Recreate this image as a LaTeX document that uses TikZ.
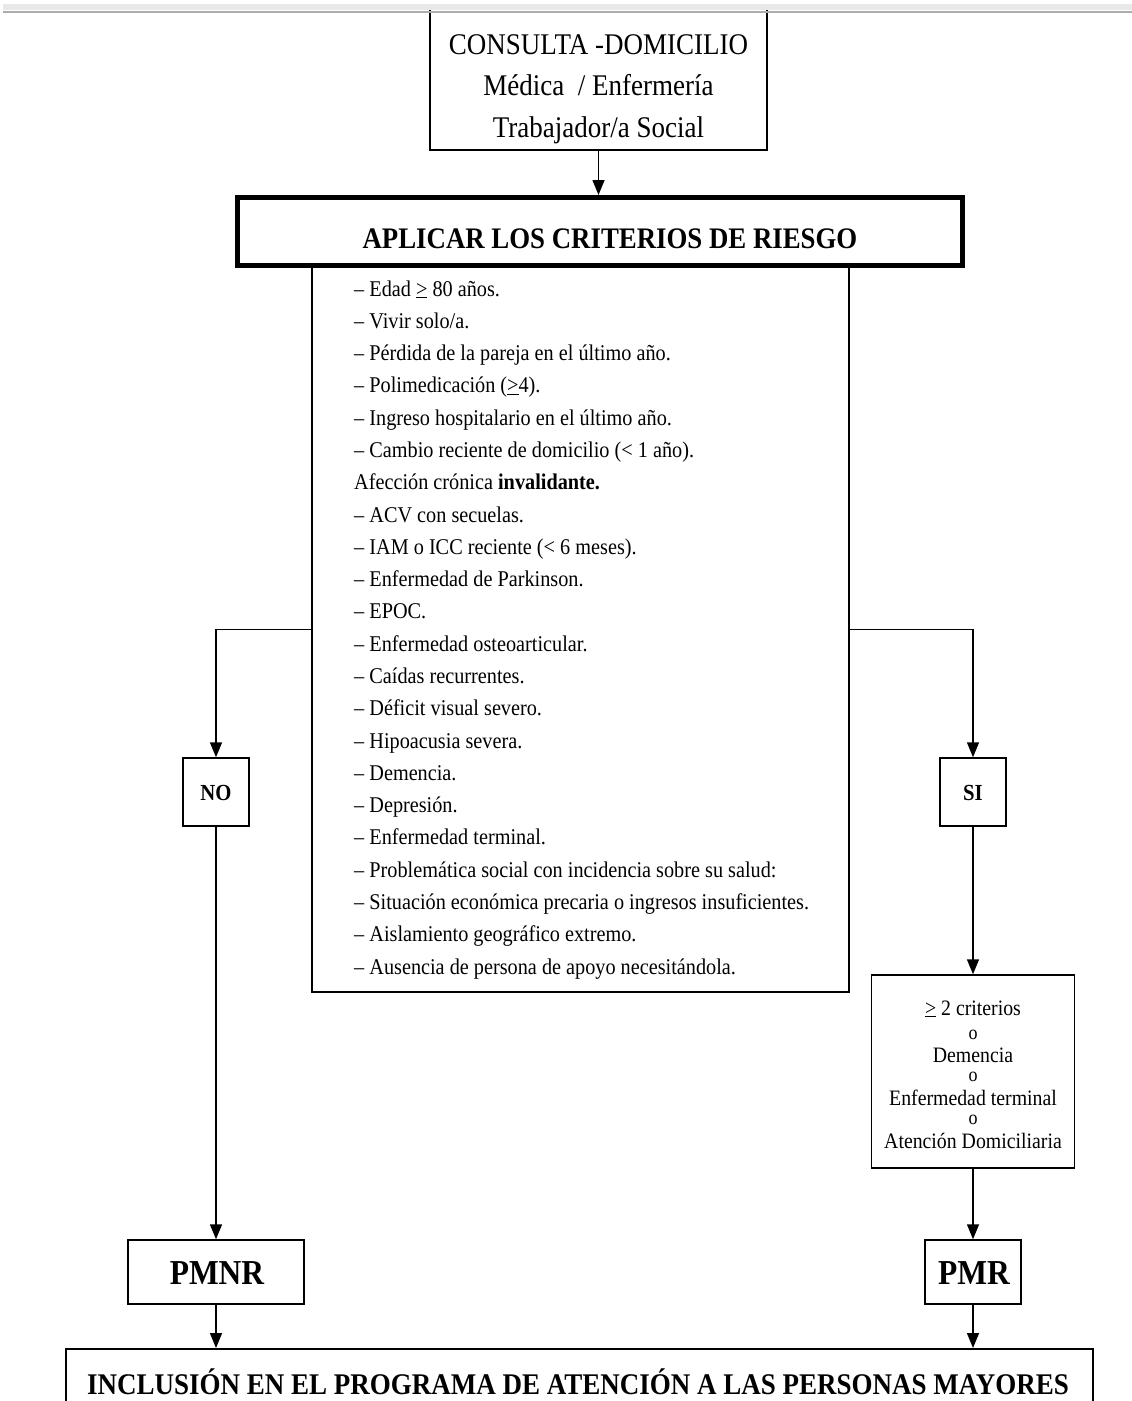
\documentclass[tikz,border=0pt]{standalone}
\usepackage{fontspec}
\setmainfont{Liberation Serif}[FakeStretch=0.9]
\usetikzlibrary{arrows.meta}
\tikzset{
  box/.style={draw, line width=1.5pt, inner sep=0pt, fill=white},
  thickbox/.style={draw, line width=5pt, inner sep=0pt, fill=white},
  arr/.style={draw, line width=1.5pt, -{Triangle[width=12pt,length=15pt]}},
  lbl/.style={inner sep=0pt, anchor=base},
  crittext/.style={inner sep=0pt, anchor=base west, font=\fontsize{22.5}{24}\selectfont},
  toptext/.style={lbl, font=\fontsize{30}{36}\selectfont},
  smalltext/.style={lbl, font=\fontsize{22}{24}\selectfont},
  otext/.style={lbl, font=\fontsize{20}{22}\selectfont},
}
\begin{document}
\begin{tikzpicture}[x=1pt,y=-1pt]
\useasboundingbox (0,0) rectangle (1132,1401);
\clip (0,0) rectangle (1132,1401);
\fill[white] (0,0) rectangle (1132,1401);

% top box
\node[box, minimum width=337pt, minimum height=142pt] (top) at (598.5,79) {};
\node[toptext] (t1) at (598.5,54) {CONSULTA -DOMICILIO};
\node[toptext] (t2) at (598.5,95) {Médica\ \ / Enfermería};
\node[toptext] (t3) at (598.5,137) {Trabajador/a Social};

% page edge line
\fill[gray!18] (3,4) rectangle (1132,10);
\draw[gray!65, line width=2pt] (3,11.5) -- (1132,11.5);

% criteria box
\node[box, anchor=north west, minimum width=537pt, minimum height=725pt] (crit) at (311,266) {};
\foreach \t [count=\i] in {
  {– Edad \underline{>} 80 años.},
  {– Vivir solo/a.},
  {– Pérdida de la pareja en el último año.},
  {– Polimedicación (\underline{>}4).},
  {– Ingreso hospitalario en el último año.},
  {– Cambio reciente de domicilio (< 1 año).},
  {Afección crónica \textbf{invalidante.}},
  {– ACV con secuelas.},
  {– IAM o ICC reciente (< 6 meses).},
  {– Enfermedad de Parkinson.},
  {– EPOC.},
  {– Enfermedad osteoarticular.},
  {– Caídas recurrentes.},
  {– Déficit visual severo.},
  {– Hipoacusia severa.},
  {– Demencia.},
  {– Depresión.},
  {– Enfermedad terminal.},
  {– Problemática social con incidencia sobre su salud:},
  {– Situación económica precaria o ingresos insuficientes.},
  {– Aislamiento geográfico extremo.},
  {– Ausencia de persona de apoyo necesitándola.}}
  \node[crittext] (c\i) at (354,{296+32.29*(\i-1)}) {\t};

% aplicar box
\node[thickbox, minimum width=725pt, minimum height=68pt] (apl) at (600,231.5) {};
\node[lbl, font=\bfseries\fontsize{29.8}{34}\selectfont] (apltxt) at (610,248) {APLICAR LOS CRITERIOS DE RIESGO};
\draw[arr] (top.south) -- (top.south |- apl.north);

% NO / SI
\node[box, minimum width=66pt, minimum height=68pt] (no) at (216,792) {};
\node[lbl, font=\bfseries\fontsize{23}{26}\selectfont] (notxt) at (216,800) {NO};
\node[box, minimum width=66pt, minimum height=68pt] (si) at (973,792) {};
\node[lbl, font=\bfseries\fontsize{23}{26}\selectfont] (sitxt) at (973,800) {SI};
\draw[arr] (crit.west) -| (no.north);
\draw[arr] (crit.east) -| (si.north);

% second criteria box
\node[box, minimum width=203pt, minimum height=193pt] (crit2) at (973,1071.5) {};
\node[smalltext] (d1) at (973,1015) {\underline{>} 2 criterios};
\node[otext] (o1) at (973,1039) {o};
\node[smalltext] (d2) at (973,1062) {Demencia};
\node[otext] (o2) at (973,1081) {o};
\node[smalltext] (d3) at (973,1105) {Enfermedad terminal};
\node[otext] (o3) at (973,1124) {o};
\node[smalltext] (d4) at (973,1148) {Atención Domiciliaria};
\draw[arr] (si.south) -- (si.south |- crit2.north);

% PMNR / PMR
\node[box, minimum width=176pt, minimum height=64pt] (pmnr) at (216,1272) {};
\node[lbl, font=\bfseries\fontsize{35}{40}\selectfont] (pmnrtxt) at (217,1284) {PMNR};
\node[box, minimum width=96pt, minimum height=64pt] (pmr) at (973,1272) {};
\node[lbl, font=\bfseries\fontsize{35}{40}\selectfont] (pmrtxt) at (974,1284) {PMR};
\draw[arr] (no.south) -- (no.south |- pmnr.north);
\draw[arr] (crit2.south) -- (crit2.south |- pmr.north);

% inclusion box
\node[box, anchor=north west, minimum width=1027pt, minimum height=100pt] (incl) at (65,1348) {};
\node[lbl, font=\bfseries\fontsize{30}{34}\selectfont] (incltxt) at (578,1394) {INCLUSIÓN EN EL PROGRAMA DE ATENCIÓN A LAS PERSONAS MAYORES};
\draw[arr] (pmnr.south) -- (pmnr.south |- incl.north);
\draw[arr] (pmr.south) -- (pmr.south |- incl.north);
\end{tikzpicture}
\end{document}
